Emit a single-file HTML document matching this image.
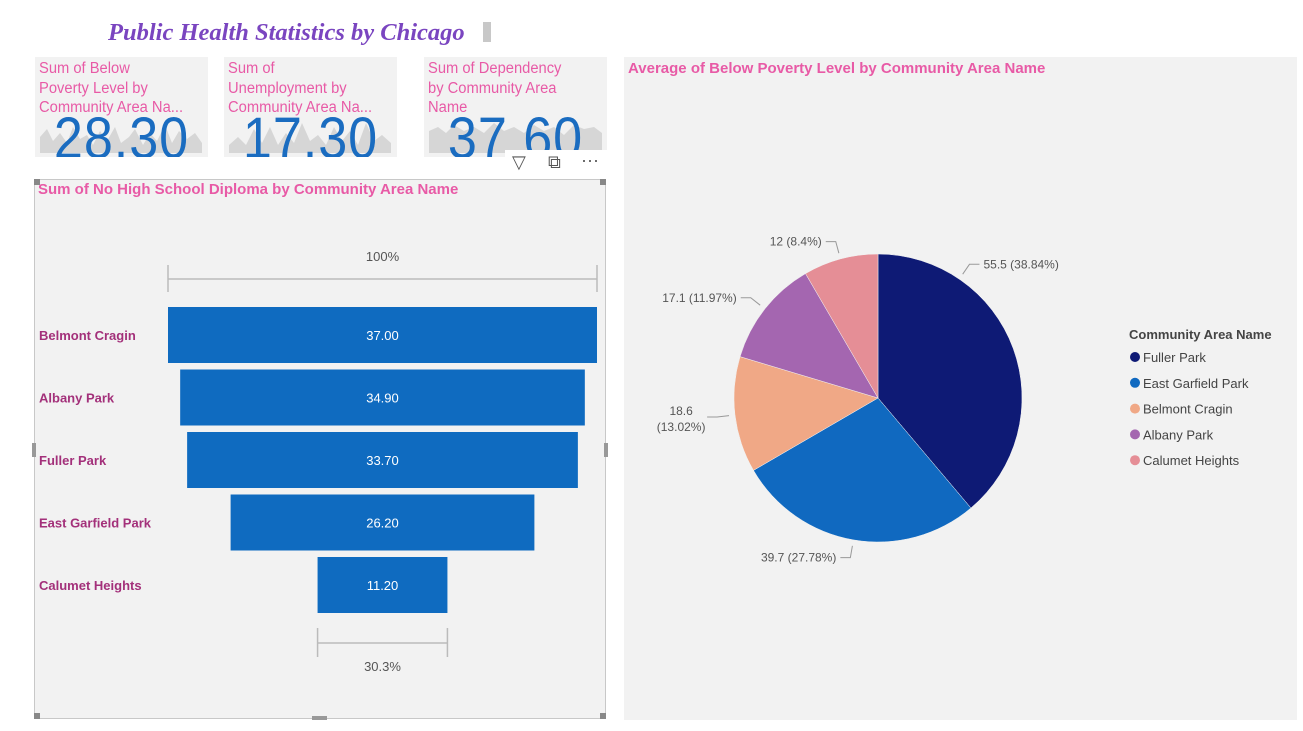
<!DOCTYPE html>
<html><head><meta charset="utf-8">
<style>
body{margin:0;width:1303px;height:731px;background:#fff;overflow:hidden;font-family:"Liberation Sans",sans-serif;position:relative}
.card{position:absolute;background:#f2f2f2;overflow:hidden}
.ktitle{position:absolute;left:4px;top:2px;color:#e85aa6;font-size:15.5px;line-height:19.5px;letter-spacing:0px;transform:scaleX(0.95);transform-origin:left top;white-space:nowrap}
.kval{position:absolute;left:0;right:0;top:50px;text-align:center;color:#1a6cc0;font-size:58px;line-height:64px;letter-spacing:1px;transform:scaleX(0.9)}
</style></head><body>
<div style="position:absolute;left:108px;top:19px;font-family:'Liberation Serif',serif;font-style:italic;font-weight:bold;font-size:24.5px;color:#7a45c0">Public Health Statistics by Chicago</div>
<div style="position:absolute;left:483px;top:22px;width:8px;height:20px;background:#c8c8c8"></div>

<div class="card" style="left:35px;top:57px;width:173px;height:100px">
<svg style="position:absolute;left:0;top:0" width="173" height="100"><path d="M5,96 L5,80 L12,72 L18,84 L25,76 L32,86 L38,70 L45,82 L52,78 L58,88 L65,74 L72,84 L80,70 L86,86 L94,80 L100,72 L108,88 L115,76 L122,84 L130,68 L137,86 L144,74 L152,82 L160,76 L167,86 L167,96Z" fill="#d6d6d6"/></svg>
<div class="ktitle">Sum of Below<br>Poverty Level by<br>Community Area Na...</div>
<div class="kval">28.30</div></div>

<div class="card" style="left:224px;top:57px;width:173px;height:100px">
<svg style="position:absolute;left:0;top:0" width="173" height="100"><path d="M5,96 L5,88 L14,80 L22,88 L30,72 L38,86 L46,70 L54,88 L62,76 L70,86 L78,66 L86,84 L94,78 L102,88 L110,70 L118,84 L126,74 L134,88 L142,66 L150,84 L158,78 L167,86 L167,96Z" fill="#d6d6d6"/></svg>
<div class="ktitle">Sum of<br>Unemployment by<br>Community Area Na...</div>
<div class="kval">17.30</div></div>

<div class="card" style="left:424px;top:57px;width:183px;height:100px">
<svg style="position:absolute;left:0;top:0" width="183" height="100"><path d="M5,96 L5,74 L14,70 L22,76 L30,68 L40,74 L50,70 L60,76 L70,66 L80,74 L90,70 L100,76 L110,68 L120,74 L130,70 L140,78 L150,68 L160,72 L170,70 L178,76 L178,96Z" fill="#d6d6d6"/></svg>
<div class="ktitle">Sum of Dependency<br>by Community Area<br>Name</div>
<div class="kval">37.60</div></div>

<div style="position:absolute;left:505px;top:150px;width:102px;height:28px;background:#fff;font-size:18px;color:#555">
<span style="position:absolute;left:7px;top:2px">▽</span>
<span style="position:absolute;left:43px;top:2px">⧉</span>
<span style="position:absolute;left:76px;top:0px">···</span></div>

<div style="position:absolute;left:34px;top:179px;width:572px;height:540px;background:#f2f2f2;border:1px solid #c8c8c8;box-sizing:border-box"></div>
<div style="position:absolute;left:38px;top:181px;font-size:15px;font-weight:bold;color:#e85aa6">Sum of No High School Diploma by Community Area Name</div>
<svg id="funnel" style="position:absolute;left:0;top:0" width="620" height="731"></svg>

<div style="position:absolute;left:624px;top:57px;width:673px;height:663px;background:#f2f2f2"></div>
<div style="position:absolute;left:628px;top:60px;font-size:15px;font-weight:bold;color:#e85aa6">Average of Below Poverty Level by Community Area Name</div>
<svg id="pie" style="position:absolute;left:0;top:0" width="1303" height="731"></svg>

<script>
const funnelCats=["Belmont Cragin","Albany Park","Fuller Park","East Garfield Park","Calumet Heights"];
const funnelVals=[37.00,34.90,33.70,26.20,11.20];
const pieCats=["Fuller Park","East Garfield Park","Belmont Cragin","Albany Park","Calumet Heights"];
const pieVals=[55.5,39.7,18.6,17.1,12];
const pieColors=["#0e1a75","#1069c0","#f0a886","#a466b0","#e58e96"];
const NS="http://www.w3.org/2000/svg";
function mk(svg,tag,attrs,text){const e=document.createElementNS(NS,tag);for(const k in attrs)e.setAttribute(k,attrs[k]);if(text!==undefined)e.textContent=text;svg.appendChild(e);return e;}

// Funnel
const fs=document.getElementById('funnel');
const cx=382.5, maxW=429, top0=307, step=62.5, bh=56;
const maxV=Math.max(...funnelVals);
const xw=v=>v/maxV*maxW;
const yb=i=>top0+i*step;
let t=mk(fs,'text',{x:cx,y:261,'text-anchor':'middle','font-size':13,fill:'#555'},'100%');


let w0=xw(funnelVals[0]);
mk(fs,'path',{d:`M${cx-w0/2},265V292M${cx-w0/2},279H${cx+w0/2}M${cx+w0/2},265V292`,stroke:'#bbb',fill:'none','stroke-width':1.5});
funnelCats.forEach((c,i)=>{
 const w=xw(funnelVals[i]);
 const r=mk(fs,'rect',{x:cx-w/2,y:yb(i),width:w,height:bh,fill:'#0f6bc0'});
 
 
 const v=mk(fs,'text',{x:cx,y:yb(i)+bh/2+5,'text-anchor':'middle','font-size':13,fill:'#fff'},funnelVals[i].toFixed(2));
 
 
 const l=mk(fs,'text',{x:39,y:yb(i)+bh/2+5,'font-size':13,'font-weight':'bold',fill:'#a3307a'},c);
 
 
});
const last=funnelVals.length-1, wl=xw(funnelVals[last]), by=yb(last)+bh;
mk(fs,'path',{d:`M${cx-wl/2},${by+15}V${by+44}M${cx-wl/2},${by+30}H${cx+wl/2}M${cx+wl/2},${by+15}V${by+44}`,stroke:'#bbb',fill:'none','stroke-width':1.5});
t=mk(fs,'text',{x:cx,y:by+58,'text-anchor':'middle','font-size':13,fill:'#555'},(funnelVals[last]/funnelVals[0]*100).toFixed(1)+'%');


[[34,713],[600,713],[34,179],[600,179]].forEach(([x,y])=>mk(fs,'rect',{x:x,y:y,width:6,height:6,fill:'#888'}));
mk(fs,'rect',{x:312,y:716,width:15,height:4,fill:'#999'});
mk(fs,'rect',{x:32,y:443,width:4,height:14,fill:'#999'});
mk(fs,'rect',{x:604,y:443,width:4,height:14,fill:'#999'});

// Pie
const ps=document.getElementById('pie');
const pcx=878, pcy=398, R=144;
const tot=pieVals.reduce((a,b)=>a+b,0);
let a=-Math.PI/2;
pieVals.forEach((v,i)=>{
 const da=v/tot*2*Math.PI, a2=a+da;
 const x1=pcx+R*Math.cos(a),y1=pcy+R*Math.sin(a),x2=pcx+R*Math.cos(a2),y2=pcy+R*Math.sin(a2);
 const p=mk(ps,'path',{d:`M${pcx},${pcy}L${x1},${y1}A${R},${R} 0 ${da>Math.PI?1:0} 1 ${x2},${y2}Z`,fill:pieColors[i],stroke:'#f2f2f2','stroke-width':0.5});
 
 
 let m=(a+a2)/2;
 if(da>2.1) m=a+0.6;
 const cs=Math.cos(m), sn=Math.sin(m);
 const ex=pcx+(R+6)*cs, ey=pcy+(R+6)*sn, kx=pcx+(R+18)*cs, ky=pcy+(R+18)*sn;
 const right=cs>=0, hx=kx+(right?10:-10);
 mk(ps,'path',{d:`M${ex},${ey}L${kx},${ky}L${hx},${ky}`,stroke:'#999',fill:'none'});
 const lab1=String(v), lab2='('+(v/tot*100).toFixed(2).replace(/\.?0+$/,'')+'%)';
 const anchor=right?'start':'end', lx=hx+(right?4:-4);
 let tx;
 if(Math.abs(sn)<0.45 && !right){
  tx=mk(ps,'text',{x:lx-10,y:ky-2,'text-anchor':'middle','font-size':12,fill:'#555'});
  mk(tx,'tspan',{x:lx-22,dy:0},lab1);
  mk(tx,'tspan',{x:lx-22,dy:16},lab2);
 } else {
  tx=mk(ps,'text',{x:lx,y:ky+4,'text-anchor':anchor,'font-size':12,fill:'#555'},lab1+' '+lab2);
 }
 
 
 a=a2;
});
t=mk(ps,'text',{x:1129,y:339,'font-size':13,'font-weight':'bold',fill:'#444'},'Community Area Name');


pieCats.forEach((c,i)=>{
 const y=357+i*25.8;
 const g=mk(ps,'g',{});
 
 
 mk(g,'circle',{cx:1135,cy:y,r:5,fill:pieColors[i]});
 mk(g,'text',{x:1143,y:y+5,'font-size':13,fill:'#444'},c);
});
</script>
</body></html>
